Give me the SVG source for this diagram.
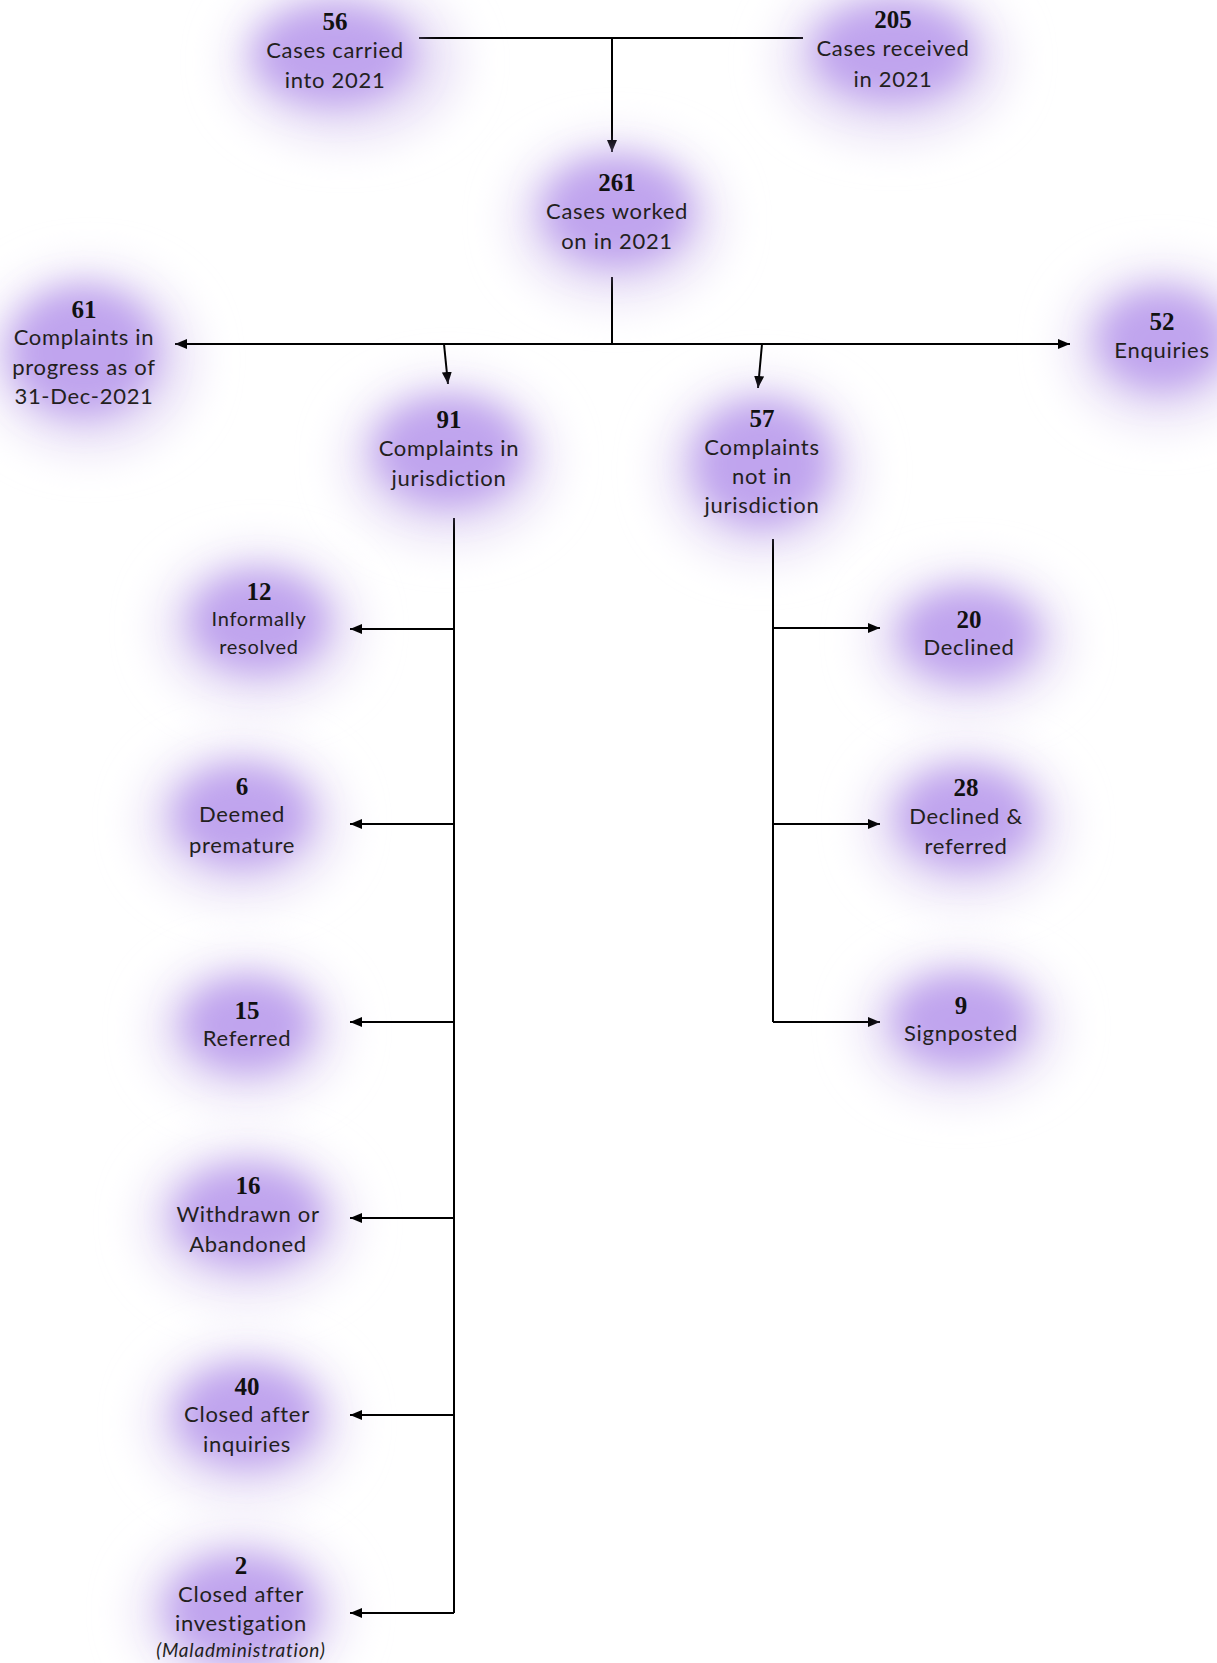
<svg xmlns="http://www.w3.org/2000/svg" width="1217" height="1663" viewBox="0 0 1217 1663">
<defs>
<filter id="blur" x="-60%" y="-60%" width="220%" height="220%"><feGaussianBlur stdDeviation="16"/></filter>
<filter id="haze" x="-80%" y="-80%" width="260%" height="260%"><feGaussianBlur stdDeviation="22"/></filter>
<marker id="arr" viewBox="0 0 12 10" refX="12" refY="5" markerWidth="12" markerHeight="10" markerUnits="userSpaceOnUse" orient="auto"><path d="M0,0 L12,5 L0,10 z" fill="#000"/></marker>
</defs>
<style>
.blob{fill:#c0a4ee;filter:url(#blur)}
.halo{fill:#e9e1f6;filter:url(#haze)}
.num{font-family:"Liberation Serif",serif;font-weight:bold;font-size:25px;fill:#111;text-anchor:middle}
.lab{font-family:Lato,"Open Sans",sans-serif;font-size:22px;letter-spacing:0.7px;fill:#231f20;text-anchor:middle}
.sm{font-size:20px}
.it{font-family:Lato,"Open Sans",sans-serif;font-style:italic;font-size:19px;letter-spacing:0.8px;fill:#231f20;text-anchor:middle}
.ln{stroke:#000;stroke-width:2;fill:none}
.la{stroke:#000;stroke-width:2;fill:none;marker-end:url(#arr)}
</style>
<rect width="1217" height="1663" fill="#fff"/>
<g id="halos">
<ellipse class="halo" cx="345" cy="62" rx="115" ry="80"/>
<ellipse class="halo" cx="893" cy="60" rx="115" ry="80"/>
<ellipse class="halo" cx="617" cy="220" rx="105" ry="82"/>
<ellipse class="halo" cx="90" cy="360" rx="105" ry="92"/>
<ellipse class="halo" cx="1162" cy="345" rx="95" ry="80"/>
<ellipse class="halo" cx="449" cy="460" rx="105" ry="82"/>
<ellipse class="halo" cx="762" cy="470" rx="100" ry="90"/>
<ellipse class="halo" cx="259" cy="628" rx="100" ry="78"/>
<ellipse class="halo" cx="242" cy="822" rx="100" ry="78"/>
<ellipse class="halo" cx="247" cy="1030" rx="95" ry="72"/>
<ellipse class="halo" cx="248" cy="1222" rx="105" ry="78"/>
<ellipse class="halo" cx="247" cy="1422" rx="100" ry="78"/>
<ellipse class="halo" cx="241" cy="1612" rx="105" ry="80"/>
<ellipse class="halo" cx="969" cy="640" rx="100" ry="72"/>
<ellipse class="halo" cx="966" cy="824" rx="100" ry="78"/>
<ellipse class="halo" cx="961" cy="1026" rx="100" ry="72"/>
</g>
<g id="connectors">
<path class="ln" d="M419,38 H803"/>
<path class="la" d="M612,38 V152"/>
<path class="ln" d="M612,277 V344"/>
<path class="la" d="M612,344 H175"/>
<path class="la" d="M612,344 H1070"/>
<path class="la" d="M444,344 L448,384"/>
<path class="la" d="M762,344 L758,388"/>
<path class="ln" d="M454,518 V1613"/>
<path class="la" d="M454,629 H350"/>
<path class="la" d="M454,824 H350"/>
<path class="la" d="M454,1022 H350"/>
<path class="la" d="M454,1218 H350"/>
<path class="la" d="M454,1415 H350"/>
<path class="la" d="M454,1613 H350"/>
<path class="ln" d="M773,539 V1022"/>
<path class="la" d="M773,628 H880"/>
<path class="la" d="M773,824 H880"/>
<path class="la" d="M773,1022 H880"/>
</g>
<g id="n56"><ellipse class="blob" cx="335" cy="55" rx="80" ry="50"/><text class="num" x="335" y="30">56</text><text class="lab" x="335" y="58">Cases carried</text><text class="lab" x="335" y="88">into 2021</text></g>
<g id="n205"><ellipse class="blob" cx="893" cy="52" rx="80" ry="50"/><text class="num" x="893" y="28">205</text><text class="lab" x="893" y="56">Cases received</text><text class="lab" x="893" y="87">in 2021</text></g>
<g id="n261"><ellipse class="blob" cx="617" cy="212" rx="74" ry="54"/><text class="num" x="617" y="191">261</text><text class="lab" x="617" y="219">Cases worked</text><text class="lab" x="617" y="249">on in 2021</text></g>
<g id="n61"><ellipse class="blob" cx="84" cy="352" rx="74" ry="64"/><text class="num" x="84" y="318">61</text><text class="lab" x="84" y="345">Complaints in</text><text class="lab" x="84" y="375">progress as of</text><text class="lab" x="84" y="404">31-Dec-2021</text></g>
<g id="n52"><ellipse class="blob" cx="1162" cy="340" rx="64" ry="50"/><text class="num" x="1162" y="330">52</text><text class="lab" x="1162" y="358">Enquiries</text></g>
<g id="n91"><ellipse class="blob" cx="449" cy="452" rx="74" ry="54"/><text class="num" x="449" y="428">91</text><text class="lab" x="449" y="456">Complaints in</text><text class="lab" x="449" y="486">jurisdiction</text></g>
<g id="n57"><ellipse class="blob" cx="762" cy="464" rx="68" ry="62"/><text class="num" x="762" y="427">57</text><text class="lab" x="762" y="455">Complaints</text><text class="lab" x="762" y="484">not in</text><text class="lab" x="762" y="513">jurisdiction</text></g>
<g id="n12"><ellipse class="blob" cx="259" cy="622" rx="68" ry="50"/><text class="num" x="259" y="600">12</text><text class="lab sm" x="259" y="626">Informally</text><text class="lab sm" x="259" y="654">resolved</text></g>
<g id="n6"><ellipse class="blob" cx="242" cy="816" rx="68" ry="50"/><text class="num" x="242" y="795">6</text><text class="lab" x="242" y="822">Deemed</text><text class="lab" x="242" y="853">premature</text></g>
<g id="n15"><ellipse class="blob" cx="247" cy="1025" rx="64" ry="46"/><text class="num" x="247" y="1019">15</text><text class="lab" x="247" y="1046">Referred</text></g>
<g id="n16"><ellipse class="blob" cx="248" cy="1216" rx="74" ry="50"/><text class="num" x="248" y="1194">16</text><text class="lab" x="248" y="1222">Withdrawn or</text><text class="lab" x="248" y="1252">Abandoned</text></g>
<g id="n40"><ellipse class="blob" cx="247" cy="1416" rx="70" ry="50"/><text class="num" x="247" y="1395">40</text><text class="lab" x="247" y="1422">Closed after</text><text class="lab" x="247" y="1452">inquiries</text></g>
<g id="n2"><ellipse class="blob" cx="241" cy="1610" rx="74" ry="54"/><text class="num" x="241" y="1574">2</text><text class="lab" x="241" y="1602">Closed after</text><text class="lab" x="241" y="1631">investigation</text><text class="it" x="241" y="1657">(Maladministration)</text></g>
<g id="n20"><ellipse class="blob" cx="969" cy="635" rx="68" ry="46"/><text class="num" x="969" y="628">20</text><text class="lab" x="969" y="655">Declined</text></g>
<g id="n28"><ellipse class="blob" cx="966" cy="818" rx="68" ry="50"/><text class="num" x="966" y="796">28</text><text class="lab" x="966" y="824">Declined &amp;</text><text class="lab" x="966" y="854">referred</text></g>
<g id="n9"><ellipse class="blob" cx="961" cy="1021" rx="68" ry="46"/><text class="num" x="961" y="1014">9</text><text class="lab" x="961" y="1041">Signposted</text></g>
</svg>
